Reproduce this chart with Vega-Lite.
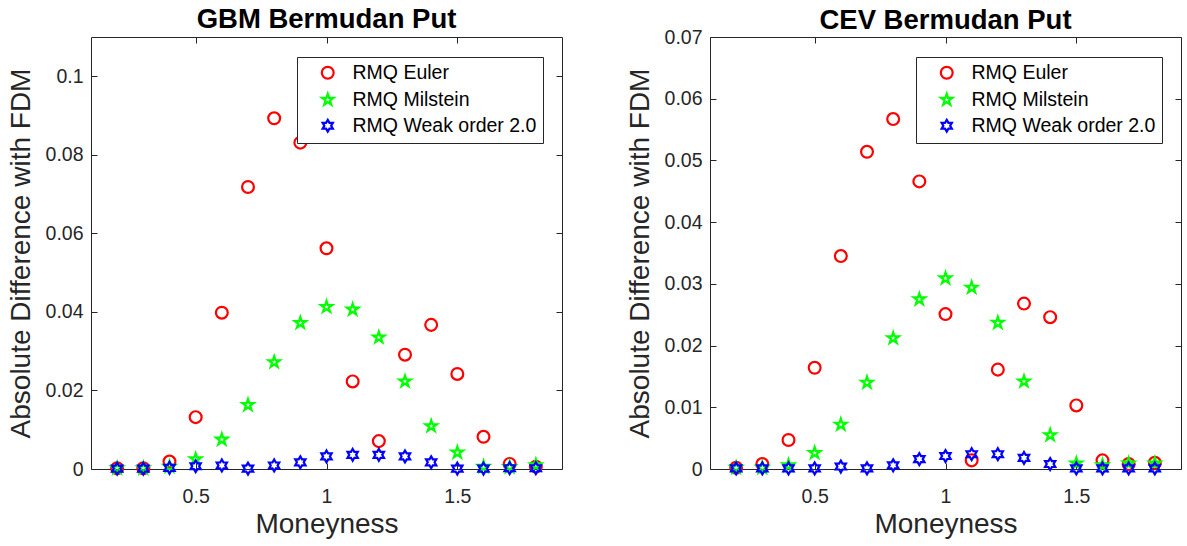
{
  "$schema": "https://vega.github.io/schema/vega-lite/v6.json",
  "padding": {"left": 6, "top": 5, "right": 4, "bottom": 0},
  "background": "white",
  "config": {
    "font": "Liberation Sans",
    "view": {"stroke": "#262626", "strokeWidth": 1},
    "axis": {
      "labelFont": "Liberation Sans", "labelFontSize": 19.5, "labelColor": "#262626",
      "titleFont": "Liberation Sans", "titleFontSize": 28, "titleFontWeight": "normal", "titleColor": "#262626",
      "tickColor": "#262626", "tickSize": -6, "domain": false, "grid": false
    },
    "axisX": {"labelPadding": 24, "titlePadding": 5},
    "axisY": {"labelPadding": 14, "titlePadding": 10},
    "title": {"font": "Liberation Sans", "fontSize": 27.5, "fontWeight": "bold", "color": "#000000", "anchor": "middle", "baseline": "alphabetic"},
    "legend": {
      "orient": "none", "legendX": 206, "legendY": 20,
      "strokeColor": "#262626", "fillColor": "white", "padding": 6,
      "labelFont": "Liberation Sans", "labelFontSize": 19.5, "labelColor": "#000000", "labelLimit": 0,
      "symbolStrokeWidth": 2.2, "symbolSize": 140, "rowPadding": 5,
      "symbolOffset": 15, "labelOffset": 15, "title": null
    }
  },
  "datasets": {
    "gbm": [
      {"moneyness": 0.2, "method": "RMQ Euler", "diff": 0.0002},
      {"moneyness": 0.3, "method": "RMQ Euler", "diff": 0.0002},
      {"moneyness": 0.4, "method": "RMQ Euler", "diff": 0.0019},
      {"moneyness": 0.5, "method": "RMQ Euler", "diff": 0.0132},
      {"moneyness": 0.6, "method": "RMQ Euler", "diff": 0.0398},
      {"moneyness": 0.7, "method": "RMQ Euler", "diff": 0.0718},
      {"moneyness": 0.8, "method": "RMQ Euler", "diff": 0.0893},
      {"moneyness": 0.9, "method": "RMQ Euler", "diff": 0.0831},
      {"moneyness": 1.0, "method": "RMQ Euler", "diff": 0.0562},
      {"moneyness": 1.1, "method": "RMQ Euler", "diff": 0.0223},
      {"moneyness": 1.2, "method": "RMQ Euler", "diff": 0.0071},
      {"moneyness": 1.3, "method": "RMQ Euler", "diff": 0.0291},
      {"moneyness": 1.4, "method": "RMQ Euler", "diff": 0.0367},
      {"moneyness": 1.5, "method": "RMQ Euler", "diff": 0.0242},
      {"moneyness": 1.6, "method": "RMQ Euler", "diff": 0.0082},
      {"moneyness": 1.7, "method": "RMQ Euler", "diff": 0.0013},
      {"moneyness": 1.8, "method": "RMQ Euler", "diff": 0.0006},
      {"moneyness": 0.2, "method": "RMQ Milstein", "diff": 0.0002},
      {"moneyness": 0.3, "method": "RMQ Milstein", "diff": 0.0002},
      {"moneyness": 0.4, "method": "RMQ Milstein", "diff": 0.0006},
      {"moneyness": 0.5, "method": "RMQ Milstein", "diff": 0.0025},
      {"moneyness": 0.6, "method": "RMQ Milstein", "diff": 0.0075},
      {"moneyness": 0.7, "method": "RMQ Milstein", "diff": 0.0163},
      {"moneyness": 0.8, "method": "RMQ Milstein", "diff": 0.0272},
      {"moneyness": 0.9, "method": "RMQ Milstein", "diff": 0.0372},
      {"moneyness": 1.0, "method": "RMQ Milstein", "diff": 0.0413},
      {"moneyness": 1.1, "method": "RMQ Milstein", "diff": 0.0406},
      {"moneyness": 1.2, "method": "RMQ Milstein", "diff": 0.0335},
      {"moneyness": 1.3, "method": "RMQ Milstein", "diff": 0.0223},
      {"moneyness": 1.4, "method": "RMQ Milstein", "diff": 0.0109},
      {"moneyness": 1.5, "method": "RMQ Milstein", "diff": 0.0042},
      {"moneyness": 1.6, "method": "RMQ Milstein", "diff": 0.0006},
      {"moneyness": 1.7, "method": "RMQ Milstein", "diff": 0.0005},
      {"moneyness": 1.8, "method": "RMQ Milstein", "diff": 0.0010},
      {"moneyness": 0.2, "method": "RMQ Weak order 2.0", "diff": 0.0001},
      {"moneyness": 0.3, "method": "RMQ Weak order 2.0", "diff": 0.0001},
      {"moneyness": 0.4, "method": "RMQ Weak order 2.0", "diff": 0.0003},
      {"moneyness": 0.5, "method": "RMQ Weak order 2.0", "diff": 0.0007},
      {"moneyness": 0.6, "method": "RMQ Weak order 2.0", "diff": 0.0009},
      {"moneyness": 0.7, "method": "RMQ Weak order 2.0", "diff": 0.0001},
      {"moneyness": 0.8, "method": "RMQ Weak order 2.0", "diff": 0.0009},
      {"moneyness": 0.9, "method": "RMQ Weak order 2.0", "diff": 0.0017},
      {"moneyness": 1.0, "method": "RMQ Weak order 2.0", "diff": 0.0032},
      {"moneyness": 1.1, "method": "RMQ Weak order 2.0", "diff": 0.0036},
      {"moneyness": 1.2, "method": "RMQ Weak order 2.0", "diff": 0.0036},
      {"moneyness": 1.3, "method": "RMQ Weak order 2.0", "diff": 0.0032},
      {"moneyness": 1.4, "method": "RMQ Weak order 2.0", "diff": 0.0017},
      {"moneyness": 1.5, "method": "RMQ Weak order 2.0", "diff": 0.0001},
      {"moneyness": 1.6, "method": "RMQ Weak order 2.0", "diff": 0.0001},
      {"moneyness": 1.7, "method": "RMQ Weak order 2.0", "diff": 0.0002},
      {"moneyness": 1.8, "method": "RMQ Weak order 2.0", "diff": 0.0002}
    ],
    "cev": [
      {"moneyness": 0.2, "method": "RMQ Euler", "diff": 0.0002},
      {"moneyness": 0.3, "method": "RMQ Euler", "diff": 0.0008},
      {"moneyness": 0.4, "method": "RMQ Euler", "diff": 0.0047},
      {"moneyness": 0.5, "method": "RMQ Euler", "diff": 0.0164},
      {"moneyness": 0.6, "method": "RMQ Euler", "diff": 0.0345},
      {"moneyness": 0.7, "method": "RMQ Euler", "diff": 0.0514},
      {"moneyness": 0.8, "method": "RMQ Euler", "diff": 0.0567},
      {"moneyness": 0.9, "method": "RMQ Euler", "diff": 0.0466},
      {"moneyness": 1.0, "method": "RMQ Euler", "diff": 0.0251},
      {"moneyness": 1.1, "method": "RMQ Euler", "diff": 0.0014},
      {"moneyness": 1.2, "method": "RMQ Euler", "diff": 0.0161},
      {"moneyness": 1.3, "method": "RMQ Euler", "diff": 0.0268},
      {"moneyness": 1.4, "method": "RMQ Euler", "diff": 0.0246},
      {"moneyness": 1.5, "method": "RMQ Euler", "diff": 0.0103},
      {"moneyness": 1.6, "method": "RMQ Euler", "diff": 0.0014},
      {"moneyness": 1.7, "method": "RMQ Euler", "diff": 0.0008},
      {"moneyness": 1.8, "method": "RMQ Euler", "diff": 0.0010},
      {"moneyness": 0.2, "method": "RMQ Milstein", "diff": 0.0002},
      {"moneyness": 0.3, "method": "RMQ Milstein", "diff": 0.0002},
      {"moneyness": 0.4, "method": "RMQ Milstein", "diff": 0.0006},
      {"moneyness": 0.5, "method": "RMQ Milstein", "diff": 0.0026},
      {"moneyness": 0.6, "method": "RMQ Milstein", "diff": 0.0072},
      {"moneyness": 0.7, "method": "RMQ Milstein", "diff": 0.0140},
      {"moneyness": 0.8, "method": "RMQ Milstein", "diff": 0.0212},
      {"moneyness": 0.9, "method": "RMQ Milstein", "diff": 0.0275},
      {"moneyness": 1.0, "method": "RMQ Milstein", "diff": 0.0309},
      {"moneyness": 1.1, "method": "RMQ Milstein", "diff": 0.0294},
      {"moneyness": 1.2, "method": "RMQ Milstein", "diff": 0.0237},
      {"moneyness": 1.3, "method": "RMQ Milstein", "diff": 0.0142},
      {"moneyness": 1.4, "method": "RMQ Milstein", "diff": 0.0055},
      {"moneyness": 1.5, "method": "RMQ Milstein", "diff": 0.0009},
      {"moneyness": 1.6, "method": "RMQ Milstein", "diff": 0.0006},
      {"moneyness": 1.7, "method": "RMQ Milstein", "diff": 0.0009},
      {"moneyness": 1.8, "method": "RMQ Milstein", "diff": 0.0009},
      {"moneyness": 0.2, "method": "RMQ Weak order 2.0", "diff": 0.0001},
      {"moneyness": 0.3, "method": "RMQ Weak order 2.0", "diff": 0.0001},
      {"moneyness": 0.4, "method": "RMQ Weak order 2.0", "diff": 0.0001},
      {"moneyness": 0.5, "method": "RMQ Weak order 2.0", "diff": 0.0001},
      {"moneyness": 0.6, "method": "RMQ Weak order 2.0", "diff": 0.0004},
      {"moneyness": 0.7, "method": "RMQ Weak order 2.0", "diff": 0.0001},
      {"moneyness": 0.8, "method": "RMQ Weak order 2.0", "diff": 0.0006},
      {"moneyness": 0.9, "method": "RMQ Weak order 2.0", "diff": 0.0016},
      {"moneyness": 1.0, "method": "RMQ Weak order 2.0", "diff": 0.0021},
      {"moneyness": 1.1, "method": "RMQ Weak order 2.0", "diff": 0.0024},
      {"moneyness": 1.2, "method": "RMQ Weak order 2.0", "diff": 0.0024},
      {"moneyness": 1.3, "method": "RMQ Weak order 2.0", "diff": 0.0018},
      {"moneyness": 1.4, "method": "RMQ Weak order 2.0", "diff": 0.0008},
      {"moneyness": 1.5, "method": "RMQ Weak order 2.0", "diff": 0.0001},
      {"moneyness": 1.6, "method": "RMQ Weak order 2.0", "diff": 0.0001},
      {"moneyness": 1.7, "method": "RMQ Weak order 2.0", "diff": 0.0001},
      {"moneyness": 1.8, "method": "RMQ Weak order 2.0", "diff": 0.0001}
    ]
  },
  "spacing": 62,
  "resolve": {
    "scale": {"color": "independent", "shape": "independent"},
    "legend": {"color": "independent", "shape": "independent"}
  },
  "hconcat": [
    {
      "title": {"text": "GBM Bermudan Put", "offset": 3},
      "width": 471,
      "height": 432,
      "data": {"name": "gbm"},
      "layer": [
        {
          "mark": {"type": "point", "filled": false, "strokeWidth": 2.2, "size": 140, "opacity": 1},
          "encoding": {
            "x": {"field": "moneyness", "type": "quantitative", "scale": {"domain": [0.1, 1.9], "nice": false, "zero": false},
                  "axis": {"orient": "bottom", "values": [0.5, 1, 1.5], "format": "~g", "title": "Moneyness"}},
            "y": {"field": "diff", "type": "quantitative", "scale": {"domain": [0, 0.11], "nice": false},
                  "axis": {"orient": "left", "values": [0, 0.02, 0.04, 0.06, 0.08, 0.1], "format": ".2~f", "title": "Absolute Difference with FDM"}},
            "color": {"field": "method", "type": "nominal",
                      "scale": {"domain": ["RMQ Euler", "RMQ Milstein", "RMQ Weak order 2.0"], "range": ["#ff0000", "#00ff00", "#0000ff"]}},
            "shape": {"field": "method", "type": "nominal",
                      "scale": {"domain": ["RMQ Euler", "RMQ Milstein", "RMQ Weak order 2.0"],
                                "range": ["circle",
                                          "M0,-1 L0.2245,-0.309 L0.951,-0.309 L0.3633,0.118 L0.588,0.809 L0,0.382 L-0.588,0.809 L-0.3633,0.118 L-0.951,-0.309 L-0.2245,-0.309 Z",
                                          "M0,-1 L0.2887,-0.5 L0.866,-0.5 L0.577,0 L0.866,0.5 L0.2887,0.5 L0,1 L-0.2887,0.5 L-0.866,0.5 L-0.577,0 L-0.866,-0.5 L-0.2887,-0.5 Z"]}}
          }
        },
        {
          "mark": {"type": "point", "opacity": 0},
          "encoding": {
            "x": {"field": "moneyness", "type": "quantitative",
                  "axis": {"orient": "top", "values": [0.5, 1, 1.5], "labels": false, "title": null}},
            "y": {"field": "diff", "type": "quantitative",
                  "axis": {"orient": "right", "values": [0, 0.02, 0.04, 0.06, 0.08, 0.1], "labels": false, "title": null}}
          }
        }
      ],
      "resolve": {"axis": {"x": "independent", "y": "independent"}}
    },
    {
      "title": {"text": "CEV Bermudan Put", "offset": -7},
      "width": 471,
      "height": 432,
      "data": {"name": "cev"},
      "layer": [
        {
          "mark": {"type": "point", "filled": false, "strokeWidth": 2.2, "size": 140, "opacity": 1},
          "encoding": {
            "x": {"field": "moneyness", "type": "quantitative", "scale": {"domain": [0.1, 1.9], "nice": false, "zero": false},
                  "axis": {"orient": "bottom", "values": [0.5, 1, 1.5], "format": "~g", "title": "Moneyness"}},
            "y": {"field": "diff", "type": "quantitative", "scale": {"domain": [0, 0.07], "nice": false},
                  "axis": {"orient": "left", "values": [0, 0.01, 0.02, 0.03, 0.04, 0.05, 0.06, 0.07], "format": ".2~f", "title": "Absolute Difference with FDM"}},
            "color": {"field": "method", "type": "nominal",
                      "scale": {"domain": ["RMQ Euler", "RMQ Milstein", "RMQ Weak order 2.0"], "range": ["#ff0000", "#00ff00", "#0000ff"]}},
            "shape": {"field": "method", "type": "nominal",
                      "scale": {"domain": ["RMQ Euler", "RMQ Milstein", "RMQ Weak order 2.0"],
                                "range": ["circle",
                                          "M0,-1 L0.2245,-0.309 L0.951,-0.309 L0.3633,0.118 L0.588,0.809 L0,0.382 L-0.588,0.809 L-0.3633,0.118 L-0.951,-0.309 L-0.2245,-0.309 Z",
                                          "M0,-1 L0.2887,-0.5 L0.866,-0.5 L0.577,0 L0.866,0.5 L0.2887,0.5 L0,1 L-0.2887,0.5 L-0.866,0.5 L-0.577,0 L-0.866,-0.5 L-0.2887,-0.5 Z"]}}
          }
        },
        {
          "mark": {"type": "point", "opacity": 0},
          "encoding": {
            "x": {"field": "moneyness", "type": "quantitative",
                  "axis": {"orient": "top", "values": [0.5, 1, 1.5], "labels": false, "title": null}},
            "y": {"field": "diff", "type": "quantitative",
                  "axis": {"orient": "right", "values": [0, 0.01, 0.02, 0.03, 0.04, 0.05, 0.06, 0.07], "labels": false, "title": null}}
          }
        }
      ],
      "resolve": {"axis": {"x": "independent", "y": "independent"}}
    }
  ]
}
